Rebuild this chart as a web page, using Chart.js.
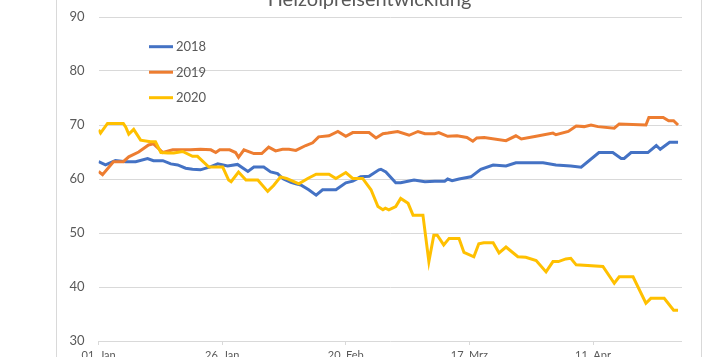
<!DOCTYPE html>
<html lang="de">
<head>
<meta charset="utf-8">
<title>Heizölpreisentwicklung</title>
<script src="https://cdn.jsdelivr.net/npm/chart.js@4.4.1/dist/chart.umd.min.js"></script>
<style>
  html, body { margin: 0; padding: 0; background: #fff; width: 714px; height: 357px; overflow: hidden; }
  #rahmen {
    position: absolute; left: 56px; top: -40px; width: 646px; height: 420px;
    box-sizing: border-box; border-left: 1px solid #d9d9d9; border-right: 1px solid #d9d9d9;
  }
  #rahmen canvas { position: absolute; left: 0; top: 0; }
</style>
</head>
<body>
<div id="rahmen"><canvas id="grafik" width="644" height="411"></canvas></div>
<script>
/* Heizölpreisentwicklung 2018 / 2019 / 2020 (Tage ab 01. Jan) */

const jahre = ["2018", "2019", "2020"];
const farben = ["#4472C4", "#ED7D31", "#FFC000"];
const tickLabels = ["01. Jan", "26. Jan", "20. Feb", "17. Mrz", "11. Apr"];

const tage2018 = [0, 1.4, 3.4, 5.5, 7.5, 9.9, 11.1, 13, 14.6, 16, 17.6, 19, 20.6, 22.7, 24.1, 26.1, 28.1, 30.2, 31.4, 33.4, 34.8, 36.2, 37.4, 38.9, 39.9, 40.9, 42.5, 44, 45.3, 48, 50, 51.4, 53, 54.7, 56.7, 57.1, 58.1, 60.1, 61.1, 63.8, 66, 68, 70, 70.6, 71.5, 72.9, 75.3, 77.3, 79.8, 82.4, 84.4, 89.9, 92.5, 95.5, 97.6, 101.2, 104, 105.7, 106.3, 107.7, 111.1, 112.8, 113.6, 115.5, 117.2];
const werte2018 = [63.2, 62.6, 63.4, 63.2, 63.2, 63.8, 63.4, 63.4, 62.8, 62.6, 62.0, 61.8, 61.7, 62.3, 62.8, 62.4, 62.7, 61.4, 62.2, 62.2, 61.3, 61.0, 60.0, 59.4, 59.1, 58.9, 58.0, 57.0, 58.0, 58.0, 59.3, 59.6, 60.4, 60.5, 61.7, 61.8, 61.3, 59.3, 59.3, 59.8, 59.5, 59.6, 59.6, 60.0, 59.7, 60.0, 60.4, 61.8, 62.6, 62.4, 63.0, 63.0, 62.6, 62.4, 62.2, 64.9, 64.9, 63.8, 63.8, 64.9, 64.9, 66.2, 65.5, 66.8, 66.8];

const tage2019 = [0, 0.8, 3, 5, 6.1, 8.1, 10.1, 11.1, 13, 15, 18.6, 20.6, 22.7, 23.7, 24.5, 26.5, 27.7, 28.3, 29.4, 31.4, 33, 34.4, 35.8, 37.2, 38.5, 39.9, 41.9, 43.3, 44.5, 46.6, 48.4, 50, 51.4, 54.7, 56.1, 57.5, 58.5, 60.5, 62.8, 64.6, 66, 68, 68.8, 70.6, 72.5, 74.5, 75.7, 76.5, 78, 82.4, 84.4, 85.5, 88.5, 91.9, 92.5, 95, 96.6, 98.2, 99.6, 101, 104.3, 105.3, 110.7, 111.3, 114.2, 115.3, 116.3, 117.2];
const werte2019 = [61.4, 60.8, 63.2, 63.2, 64.1, 65.0, 66.3, 66.5, 64.9, 65.4, 65.4, 65.5, 65.4, 64.9, 65.4, 65.4, 64.9, 64.0, 65.4, 64.7, 64.7, 65.9, 65.2, 65.5, 65.5, 65.3, 66.2, 66.7, 67.8, 68.0, 68.8, 67.9, 68.6, 68.6, 67.6, 68.4, 68.5, 68.8, 68.1, 68.8, 68.4, 68.4, 68.6, 67.9, 68.0, 67.7, 67.0, 67.6, 67.7, 67.1, 68.0, 67.4, 67.9, 68.5, 68.2, 68.8, 69.8, 69.7, 70.0, 69.7, 69.4, 70.2, 70.0, 71.4, 71.4, 70.8, 70.8, 70.0];

const tage2020 = [0, 0.4, 1.8, 5, 5.5, 6.1, 7.1, 8.5, 10.5, 11.5, 12.6, 14, 15.2, 17, 19, 20, 22.3, 25.1, 26.3, 26.8, 28.3, 29.8, 32.2, 34.2, 35.4, 36.8, 38, 39.5, 40.5, 42.3, 44, 46.6, 48, 50, 51.4, 53.4, 55.1, 56.5, 57.5, 58, 58.7, 60.1, 61.1, 62.6, 63.6, 65.6, 66.8, 67.8, 68.5, 69.8, 70.9, 72.9, 73.9, 75.9, 76.9, 77.9, 79.8, 81, 82.4, 84.8, 86.4, 88.5, 90.5, 91.9, 93, 94.5, 95.5, 96.6, 102, 104.3, 105.3, 108.1, 110.7, 111.7, 114.4, 116.3, 117.2];
const werte2020 = [69.1, 68.5, 70.3, 70.3, 69.6, 68.3, 69.2, 67.2, 66.9, 66.9, 64.9, 64.8, 64.8, 65.1, 64.2, 64.2, 62.2, 62.2, 59.8, 59.5, 61.3, 59.8, 59.8, 57.7, 58.8, 60.4, 60.1, 59.5, 59.1, 60.1, 60.9, 60.9, 60.1, 61.2, 60.1, 60.1, 58.0, 54.9, 54.3, 54.6, 54.3, 54.9, 56.4, 55.5, 53.3, 53.3, 44.7, 49.6, 49.6, 47.8, 49.0, 49.0, 46.4, 45.6, 48.0, 48.2, 48.2, 46.3, 47.4, 45.6, 45.5, 44.9, 42.8, 44.7, 44.7, 45.2, 45.3, 44.1, 43.8, 40.7, 41.9, 41.9, 37.0, 37.9, 37.9, 35.7, 35.7];

const reihen = [[tage2018, werte2018], [tage2019, werte2019], [tage2020, werte2020]];

const schrift = "Lato, 'Open Sans', sans-serif";
const grau = "#595959";
const gitter = "#d9d9d9";

// Legende sitzt bei Excel innen im Diagramm, oben links
const legendeInnen = {
  id: "legendeInnen",
  afterDraw(chart) {
    const ctx = chart.ctx;
    const a = chart.chartArea;
    ctx.save();
    ctx.font = "13px " + schrift;
    ctx.textBaseline = "middle";
    chart.data.datasets.forEach((ds, i) => {
      const y = a.top + 29.7 + i * 25.5;
      const x = a.left + 50.4;
      ctx.strokeStyle = ds.borderColor;
      ctx.lineWidth = 3;
      ctx.beginPath();
      ctx.moveTo(x, y);
      ctx.lineTo(x + 24, y);
      ctx.stroke();
      ctx.fillStyle = grau;
      ctx.fillText(ds.label, x + 27, y + 0.5);
    });
    ctx.restore();
  }
};

const datasets = jahre.map((jahr, i) => ({
  label: jahr,
  data: reihen[i][0].map((t, k) => ({ x: t, y: reihen[i][1][k] })),
  borderColor: farben[i],
  backgroundColor: farben[i],
  borderWidth: 3,
  pointRadius: 0,
  tension: 0,
  order: jahre.length - i
}));

new Chart(document.getElementById("grafik"), {
  type: "line",
  data: { datasets },
  options: {
    responsive: false,
    animation: false,
    layout: { padding: { top: 28, right: 19, bottom: 0, left: 0 } },
    plugins: {
      legend: { display: false },
      tooltip: { enabled: false },
      title: {
        display: true,
        text: "Heizölpreisentwicklung",
        color: grau,
        font: { family: schrift, size: 20, weight: "normal" },
        padding: { top: 0, bottom: 5 }
      }
    },
    scales: {
      x: {
        type: "linear",
        min: 0,
        max: 118,
        afterBuildTicks: s => { s.ticks = tickLabels.map((_, i) => ({ value: i * 25 })); },
        afterFit: s => { s.height = 30; },
        grid: { drawOnChartArea: false, drawTicks: true, tickLength: 4, color: gitter },
        border: { display: false },
        ticks: {
          padding: 4,
          color: grau,
          font: { family: schrift, size: 11 },
          maxRotation: 0,
          autoSkip: false,
          callback: v => tickLabels[Math.round(v / 25)]
        }
      },
      y: {
        min: 30,
        max: 90,
        afterFit: s => { s.width = 41.6; },
        grid: { color: gitter, drawTicks: false },
        border: { display: false },
        ticks: {
          stepSize: 10,
          padding: 14,
          color: grau,
          font: { family: schrift, size: 13 }
        }
      }
    }
  },
  plugins: [legendeInnen]
});
</script>
</body>
</html>
